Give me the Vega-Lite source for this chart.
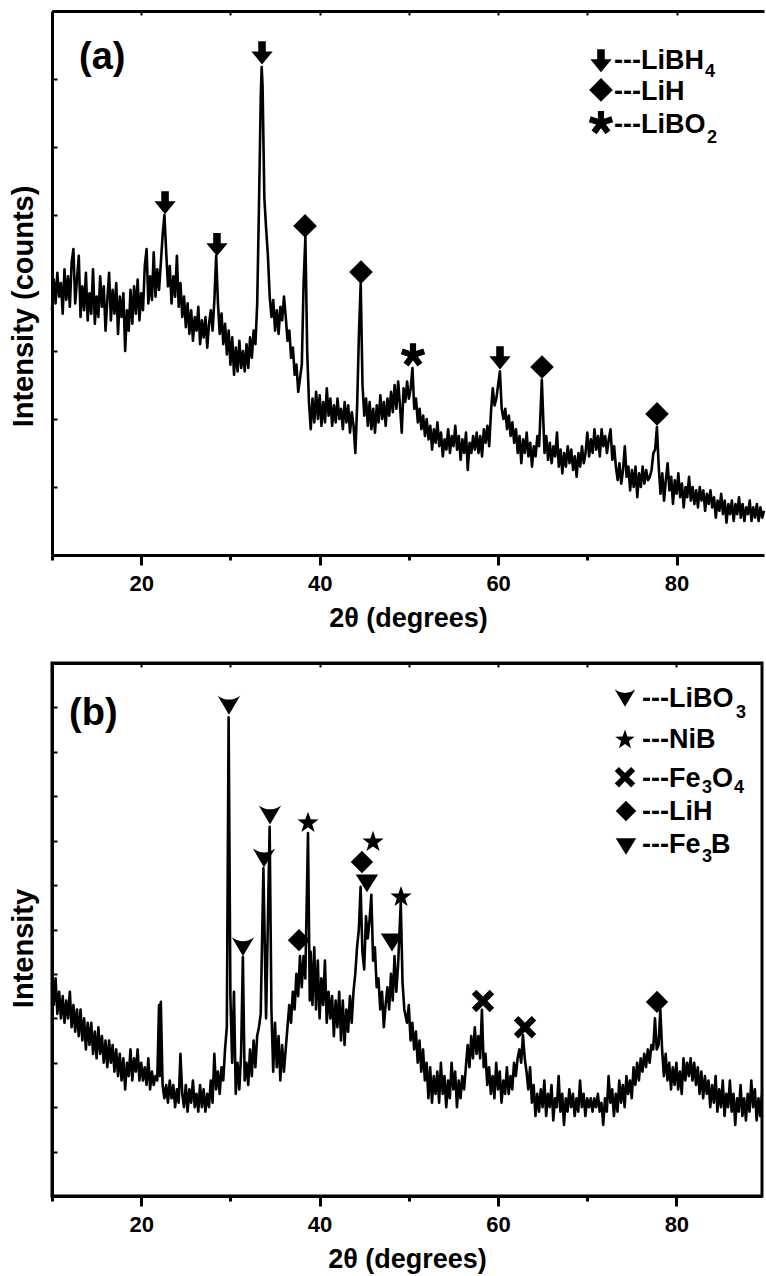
{
"$schema":"https://vega.github.io/schema/vega-lite/v6.json",
"padding":{"left":7,"top":10,"right":0,"bottom":0},
"config":{"view":{"stroke":null},"font":"Liberation Sans"},
"spacing":29,
"resolve":{"scale":{"shape":"independent"}},
"datasets":{
"a":[{"x":10.0,"y":7.2},{"x":10.2,"y":8.1},{"x":10.4,"y":7.4},{"x":10.6,"y":8.3},{"x":10.8,"y":7.6},{"x":11.0,"y":8.0},{"x":11.2,"y":7.1},{"x":11.4,"y":8.4},{"x":11.6,"y":7.5},{"x":11.8,"y":8.2},{"x":12.0,"y":7.3},{"x":12.2,"y":8.6},{"x":12.4,"y":9.0},{"x":12.6,"y":7.4},{"x":12.8,"y":8.1},{"x":13.0,"y":8.8},{"x":13.2,"y":7.0},{"x":13.4,"y":7.9},{"x":13.6,"y":7.2},{"x":13.8,"y":8.3},{"x":14.0,"y":6.9},{"x":14.2,"y":7.7},{"x":14.4,"y":7.1},{"x":14.6,"y":8.4},{"x":14.8,"y":6.8},{"x":15.0,"y":7.6},{"x":15.2,"y":7.0},{"x":15.4,"y":8.2},{"x":15.6,"y":7.3},{"x":15.8,"y":7.9},{"x":16.0,"y":6.6},{"x":16.2,"y":7.5},{"x":16.4,"y":8.3},{"x":16.6,"y":6.9},{"x":16.8,"y":7.8},{"x":17.0,"y":7.1},{"x":17.2,"y":8.0},{"x":17.4,"y":6.5},{"x":17.6,"y":7.6},{"x":17.8,"y":7.0},{"x":18.0,"y":7.7},{"x":18.2,"y":6.0},{"x":18.4,"y":7.2},{"x":18.6,"y":6.6},{"x":18.8,"y":7.8},{"x":19.0,"y":6.8},{"x":19.2,"y":7.9},{"x":19.4,"y":7.1},{"x":19.6,"y":8.1},{"x":19.8,"y":6.9},{"x":20.0,"y":7.7},{"x":20.2,"y":7.2},{"x":20.4,"y":8.5},{"x":20.6,"y":9.0},{"x":20.8,"y":7.4},{"x":21.0,"y":8.2},{"x":21.2,"y":7.5},{"x":21.4,"y":8.9},{"x":21.6,"y":7.6},{"x":21.8,"y":8.4},{"x":22.0,"y":7.8},{"x":22.2,"y":8.6},{"x":22.4,"y":9.4},{"x":22.6,"y":10.0},{"x":22.8,"y":8.9},{"x":23.0,"y":7.9},{"x":23.2,"y":8.5},{"x":23.4,"y":7.4},{"x":23.6,"y":8.2},{"x":23.8,"y":7.6},{"x":24.0,"y":8.8},{"x":24.2,"y":7.3},{"x":24.4,"y":8.0},{"x":24.6,"y":7.0},{"x":24.8,"y":7.6},{"x":25.0,"y":6.7},{"x":25.2,"y":7.4},{"x":25.4,"y":6.5},{"x":25.6,"y":7.2},{"x":25.8,"y":6.3},{"x":26.0,"y":7.0},{"x":26.2,"y":6.6},{"x":26.4,"y":7.3},{"x":26.6,"y":6.2},{"x":26.8,"y":6.9},{"x":27.0,"y":6.4},{"x":27.2,"y":7.0},{"x":27.4,"y":6.1},{"x":27.6,"y":6.8},{"x":27.8,"y":7.2},{"x":28.0,"y":6.6},{"x":28.2,"y":7.5},{"x":28.4,"y":8.8},{"x":28.6,"y":7.4},{"x":28.8,"y":6.5},{"x":29.0,"y":7.1},{"x":29.2,"y":6.2},{"x":29.4,"y":6.8},{"x":29.6,"y":5.9},{"x":29.8,"y":6.6},{"x":30.0,"y":5.6},{"x":30.2,"y":6.4},{"x":30.4,"y":5.3},{"x":30.6,"y":6.1},{"x":30.8,"y":5.4},{"x":31.0,"y":6.3},{"x":31.2,"y":5.5},{"x":31.4,"y":6.0},{"x":31.6,"y":5.4},{"x":31.8,"y":6.2},{"x":32.0,"y":5.5},{"x":32.2,"y":6.4},{"x":32.4,"y":5.8},{"x":32.6,"y":6.6},{"x":32.8,"y":6.2},{"x":33.0,"y":7.4},{"x":33.2,"y":10.3},{"x":33.4,"y":13.5},{"x":33.5,"y":14.35},{"x":33.6,"y":13.8},{"x":33.8,"y":10.5},{"x":34.0,"y":9.6},{"x":34.2,"y":8.8},{"x":34.4,"y":7.6},{"x":34.6,"y":7.0},{"x":34.8,"y":7.5},{"x":35.0,"y":6.6},{"x":35.2,"y":7.2},{"x":35.4,"y":6.5},{"x":35.6,"y":7.3},{"x":35.8,"y":6.9},{"x":36.0,"y":7.6},{"x":36.2,"y":7.0},{"x":36.4,"y":6.3},{"x":36.6,"y":6.6},{"x":36.8,"y":5.8},{"x":37.0,"y":6.1},{"x":37.2,"y":5.3},{"x":37.4,"y":5.6},{"x":37.6,"y":4.8},{"x":37.8,"y":5.2},{"x":38.0,"y":5.6},{"x":38.2,"y":8.0},{"x":38.4,"y":9.35},{"x":38.6,"y":6.0},{"x":38.8,"y":4.5},{"x":39.0,"y":3.7},{"x":39.2,"y":4.6},{"x":39.4,"y":3.9},{"x":39.6,"y":4.8},{"x":39.8,"y":4.0},{"x":40.0,"y":4.7},{"x":40.2,"y":3.8},{"x":40.4,"y":4.5},{"x":40.6,"y":3.9},{"x":40.8,"y":4.9},{"x":41.0,"y":4.1},{"x":41.2,"y":4.6},{"x":41.4,"y":3.8},{"x":41.6,"y":4.4},{"x":41.8,"y":3.9},{"x":42.0,"y":4.6},{"x":42.2,"y":4.0},{"x":42.4,"y":4.3},{"x":42.6,"y":3.7},{"x":42.8,"y":4.5},{"x":43.0,"y":3.9},{"x":43.2,"y":4.4},{"x":43.4,"y":3.6},{"x":43.6,"y":4.2},{"x":43.8,"y":3.8},{"x":44.0,"y":3.0},{"x":44.2,"y":4.4},{"x":44.4,"y":6.5},{"x":44.6,"y":8.0},{"x":44.8,"y":5.0},{"x":45.0,"y":4.1},{"x":45.2,"y":4.6},{"x":45.4,"y":3.8},{"x":45.6,"y":4.5},{"x":45.8,"y":3.7},{"x":46.0,"y":4.3},{"x":46.2,"y":3.6},{"x":46.4,"y":4.4},{"x":46.6,"y":3.9},{"x":46.8,"y":4.7},{"x":47.0,"y":4.0},{"x":47.2,"y":4.5},{"x":47.4,"y":3.8},{"x":47.6,"y":4.6},{"x":47.8,"y":4.1},{"x":48.0,"y":4.8},{"x":48.2,"y":4.2},{"x":48.4,"y":5.0},{"x":48.6,"y":4.3},{"x":48.8,"y":5.1},{"x":49.0,"y":4.4},{"x":49.2,"y":3.6},{"x":49.4,"y":4.9},{"x":49.6,"y":4.5},{"x":49.8,"y":5.1},{"x":50.0,"y":4.6},{"x":50.2,"y":4.9},{"x":50.4,"y":5.5},{"x":50.6,"y":4.3},{"x":50.8,"y":4.6},{"x":51.0,"y":3.9},{"x":51.2,"y":4.3},{"x":51.4,"y":3.7},{"x":51.6,"y":4.1},{"x":51.8,"y":3.5},{"x":52.0,"y":4.0},{"x":52.2,"y":3.4},{"x":52.4,"y":3.8},{"x":52.6,"y":3.1},{"x":52.8,"y":3.7},{"x":53.0,"y":3.3},{"x":53.2,"y":3.9},{"x":53.4,"y":3.2},{"x":53.6,"y":3.6},{"x":53.8,"y":2.9},{"x":54.0,"y":3.4},{"x":54.2,"y":3.1},{"x":54.4,"y":3.7},{"x":54.6,"y":3.0},{"x":54.8,"y":3.5},{"x":55.0,"y":3.2},{"x":55.2,"y":3.8},{"x":55.4,"y":3.1},{"x":55.6,"y":3.5},{"x":55.8,"y":2.8},{"x":56.0,"y":3.4},{"x":56.2,"y":3.0},{"x":56.4,"y":3.6},{"x":56.6,"y":2.5},{"x":56.8,"y":3.3},{"x":57.0,"y":3.0},{"x":57.2,"y":3.5},{"x":57.4,"y":3.1},{"x":57.6,"y":3.6},{"x":57.8,"y":3.0},{"x":58.0,"y":3.5},{"x":58.2,"y":2.9},{"x":58.4,"y":3.7},{"x":58.6,"y":3.3},{"x":58.8,"y":3.8},{"x":59.0,"y":3.2},{"x":59.2,"y":4.2},{"x":59.4,"y":4.9},{"x":59.6,"y":4.4},{"x":59.8,"y":4.6},{"x":60.0,"y":5.0},{"x":60.2,"y":5.4},{"x":60.4,"y":4.3},{"x":60.6,"y":4.0},{"x":60.8,"y":4.3},{"x":61.0,"y":3.7},{"x":61.2,"y":4.1},{"x":61.4,"y":3.5},{"x":61.6,"y":3.9},{"x":61.8,"y":3.3},{"x":62.0,"y":3.7},{"x":62.2,"y":3.0},{"x":62.4,"y":3.5},{"x":62.6,"y":2.7},{"x":62.8,"y":3.4},{"x":63.0,"y":3.0},{"x":63.2,"y":3.6},{"x":63.4,"y":2.9},{"x":63.6,"y":3.3},{"x":63.8,"y":2.6},{"x":64.0,"y":3.2},{"x":64.2,"y":2.9},{"x":64.4,"y":3.5},{"x":64.6,"y":3.2},{"x":64.9,"y":5.15},{"x":65.2,"y":3.0},{"x":65.4,"y":3.5},{"x":65.6,"y":2.8},{"x":65.8,"y":3.3},{"x":66.0,"y":2.7},{"x":66.2,"y":3.2},{"x":66.4,"y":2.9},{"x":66.6,"y":3.6},{"x":66.8,"y":2.6},{"x":67.0,"y":3.1},{"x":67.2,"y":2.4},{"x":67.4,"y":3.0},{"x":67.6,"y":2.6},{"x":67.8,"y":3.2},{"x":68.0,"y":2.7},{"x":68.2,"y":3.1},{"x":68.4,"y":2.5},{"x":68.6,"y":2.9},{"x":68.8,"y":2.3},{"x":69.0,"y":3.0},{"x":69.2,"y":2.6},{"x":69.4,"y":3.2},{"x":69.6,"y":2.7},{"x":69.8,"y":3.0},{"x":70.0,"y":3.6},{"x":70.2,"y":2.9},{"x":70.4,"y":3.4},{"x":70.6,"y":3.0},{"x":70.8,"y":3.7},{"x":71.0,"y":3.1},{"x":71.2,"y":3.5},{"x":71.4,"y":2.9},{"x":71.6,"y":3.7},{"x":71.8,"y":3.2},{"x":72.0,"y":3.5},{"x":72.2,"y":3.0},{"x":72.4,"y":3.4},{"x":72.6,"y":3.7},{"x":72.8,"y":2.8},{"x":73.0,"y":3.2},{"x":73.2,"y":2.6},{"x":73.4,"y":2.2},{"x":73.6,"y":2.7},{"x":73.8,"y":2.1},{"x":74.0,"y":2.5},{"x":74.2,"y":3.2},{"x":74.4,"y":2.3},{"x":74.6,"y":2.6},{"x":74.8,"y":1.9},{"x":75.0,"y":2.5},{"x":75.2,"y":2.0},{"x":75.4,"y":2.6},{"x":75.6,"y":1.7},{"x":75.8,"y":2.4},{"x":76.0,"y":2.0},{"x":76.2,"y":2.6},{"x":76.4,"y":2.1},{"x":76.6,"y":2.5},{"x":76.8,"y":2.2},{"x":77.0,"y":2.3},{"x":77.2,"y":2.5},{"x":77.4,"y":3.0},{"x":77.6,"y":3.1},{"x":77.8,"y":3.76},{"x":78.0,"y":2.6},{"x":78.2,"y":1.8},{"x":78.4,"y":2.4},{"x":78.6,"y":1.6},{"x":78.8,"y":2.2},{"x":79.0,"y":2.7},{"x":79.2,"y":1.9},{"x":79.4,"y":2.3},{"x":79.6,"y":1.5},{"x":79.8,"y":2.2},{"x":80.0,"y":1.8},{"x":80.2,"y":2.4},{"x":80.4,"y":1.7},{"x":80.6,"y":2.1},{"x":80.8,"y":1.4},{"x":81.0,"y":2.0},{"x":81.2,"y":1.7},{"x":81.4,"y":2.3},{"x":81.6,"y":1.6},{"x":81.8,"y":2.0},{"x":82.0,"y":1.5},{"x":82.2,"y":1.9},{"x":82.4,"y":1.4},{"x":82.6,"y":2.0},{"x":82.8,"y":1.6},{"x":83.0,"y":1.9},{"x":83.2,"y":1.3},{"x":83.4,"y":1.8},{"x":83.6,"y":1.5},{"x":83.8,"y":1.9},{"x":84.0,"y":1.4},{"x":84.2,"y":1.7},{"x":84.4,"y":1.1},{"x":84.6,"y":1.6},{"x":84.8,"y":1.3},{"x":85.0,"y":1.8},{"x":85.2,"y":1.2},{"x":85.4,"y":1.6},{"x":85.6,"y":0.95},{"x":85.8,"y":1.5},{"x":86.0,"y":1.2},{"x":86.2,"y":1.6},{"x":86.4,"y":1.0},{"x":86.6,"y":1.5},{"x":86.8,"y":1.2},{"x":87.0,"y":1.7},{"x":87.2,"y":1.1},{"x":87.4,"y":1.5},{"x":87.6,"y":1.0},{"x":87.8,"y":1.4},{"x":88.0,"y":1.2},{"x":88.2,"y":1.6},{"x":88.4,"y":1.0},{"x":88.6,"y":1.4},{"x":88.8,"y":1.1},{"x":89.0,"y":1.5},{"x":89.2,"y":1.0},{"x":89.4,"y":1.4},{"x":89.6,"y":1.1},{"x":89.8,"y":1.3}],
"am":[{"x":22.67,"y":10.35,"s":"arrow"},{"x":28.49,"y":9.12,"s":"arrow"},{"x":33.54,"y":14.76,"s":"arrow"},{"x":60.21,"y":5.79,"s":"arrow"},{"x":38.36,"y":9.68,"s":"diamond"},{"x":44.63,"y":8.32,"s":"diamond"},{"x":64.92,"y":5.53,"s":"diamond"},{"x":77.81,"y":4.15,"s":"diamond"},{"x":50.46,"y":5.88,"s":"asterisk"},{"x":71.53,"y":14.53,"s":"arrow"},{"x":71.53,"y":13.68,"s":"diamond"},{"x":71.53,"y":12.71,"s":"asterisk"}],
"at":[{"x":72.99,"y":14.29,"t":"---LiBH"},{"x":72.99,"y":13.38,"t":"---LiH"},{"x":72.99,"y":12.41,"t":"---LiBO"}],
"as":[{"x":83.19,"y":14.06,"t":"4"},{"x":83.4,"y":12.12,"t":"2"}],
"al":[{"x":13.03,"y":14.29,"t":"(a)"}],
"b":[{"x":10.0,"y":4.8},{"x":10.2,"y":4.3},{"x":10.4,"y":4.9},{"x":10.6,"y":4.1},{"x":10.8,"y":4.6},{"x":11.0,"y":4.0},{"x":11.2,"y":4.5},{"x":11.4,"y":3.9},{"x":11.6,"y":4.4},{"x":11.8,"y":4.0},{"x":12.0,"y":4.6},{"x":12.2,"y":3.8},{"x":12.4,"y":4.3},{"x":12.6,"y":3.7},{"x":12.8,"y":4.2},{"x":13.0,"y":3.6},{"x":13.2,"y":4.2},{"x":13.4,"y":3.5},{"x":13.6,"y":4.0},{"x":13.8,"y":3.3},{"x":14.0,"y":3.9},{"x":14.2,"y":3.4},{"x":14.4,"y":3.9},{"x":14.6,"y":3.2},{"x":14.8,"y":3.7},{"x":15.0,"y":3.1},{"x":15.2,"y":3.8},{"x":15.4,"y":3.2},{"x":15.6,"y":3.6},{"x":15.8,"y":3.0},{"x":16.0,"y":3.5},{"x":16.2,"y":2.9},{"x":16.4,"y":3.5},{"x":16.6,"y":3.0},{"x":16.8,"y":3.4},{"x":17.0,"y":2.8},{"x":17.2,"y":3.3},{"x":17.4,"y":2.7},{"x":17.6,"y":3.2},{"x":17.8,"y":2.6},{"x":18.0,"y":3.1},{"x":18.2,"y":2.4},{"x":18.4,"y":3.0},{"x":18.6,"y":2.7},{"x":18.8,"y":3.3},{"x":19.0,"y":2.6},{"x":19.2,"y":3.1},{"x":19.4,"y":2.8},{"x":19.6,"y":3.3},{"x":19.8,"y":2.6},{"x":20.0,"y":3.0},{"x":20.2,"y":2.6},{"x":20.4,"y":2.9},{"x":20.6,"y":2.5},{"x":20.8,"y":3.1},{"x":21.0,"y":2.4},{"x":21.2,"y":2.8},{"x":21.4,"y":2.5},{"x":21.6,"y":2.7},{"x":21.8,"y":2.6},{"x":22.0,"y":4.3},{"x":22.1,"y":2.7},{"x":22.2,"y":4.37},{"x":22.4,"y":2.5},{"x":22.6,"y":2.2},{"x":22.8,"y":2.5},{"x":23.0,"y":2.1},{"x":23.2,"y":2.6},{"x":23.4,"y":2.2},{"x":23.6,"y":2.5},{"x":23.8,"y":2.0},{"x":24.0,"y":2.4},{"x":24.2,"y":2.1},{"x":24.4,"y":3.2},{"x":24.6,"y":2.3},{"x":24.8,"y":2.0},{"x":25.0,"y":2.5},{"x":25.2,"y":1.9},{"x":25.4,"y":2.4},{"x":25.6,"y":2.1},{"x":25.8,"y":2.6},{"x":26.0,"y":2.0},{"x":26.2,"y":2.3},{"x":26.4,"y":1.9},{"x":26.6,"y":2.5},{"x":26.8,"y":2.0},{"x":27.0,"y":2.4},{"x":27.2,"y":1.9},{"x":27.4,"y":2.3},{"x":27.6,"y":2.0},{"x":27.8,"y":2.6},{"x":28.0,"y":2.1},{"x":28.2,"y":3.2},{"x":28.4,"y":2.4},{"x":28.6,"y":2.8},{"x":28.8,"y":2.3},{"x":29.0,"y":2.9},{"x":29.2,"y":2.6},{"x":29.4,"y":3.3},{"x":29.6,"y":3.8},{"x":29.8,"y":10.78},{"x":30.0,"y":4.5},{"x":30.2,"y":3.0},{"x":30.4,"y":4.6},{"x":30.6,"y":2.3},{"x":30.8,"y":3.0},{"x":31.0,"y":2.4},{"x":31.2,"y":3.2},{"x":31.4,"y":5.38},{"x":31.6,"y":2.6},{"x":31.8,"y":3.0},{"x":32.0,"y":2.5},{"x":32.2,"y":3.3},{"x":32.4,"y":2.7},{"x":32.6,"y":3.5},{"x":32.8,"y":2.9},{"x":33.0,"y":3.6},{"x":33.2,"y":3.8},{"x":33.4,"y":4.1},{"x":33.7,"y":7.38},{"x":34.0,"y":4.0},{"x":34.4,"y":8.31},{"x":34.6,"y":4.2},{"x":34.8,"y":2.8},{"x":35.0,"y":3.9},{"x":35.2,"y":2.9},{"x":35.4,"y":3.6},{"x":35.6,"y":2.6},{"x":35.8,"y":3.4},{"x":36.0,"y":2.8},{"x":36.2,"y":3.3},{"x":36.4,"y":3.8},{"x":36.6,"y":4.3},{"x":36.8,"y":3.9},{"x":37.0,"y":4.6},{"x":37.2,"y":4.2},{"x":37.4,"y":5.0},{"x":37.6,"y":4.5},{"x":37.8,"y":5.4},{"x":38.0,"y":4.7},{"x":38.2,"y":5.4},{"x":38.4,"y":4.9},{"x":38.7,"y":8.17},{"x":38.9,"y":4.4},{"x":39.0,"y":5.5},{"x":39.2,"y":4.3},{"x":39.4,"y":5.6},{"x":39.6,"y":4.2},{"x":39.8,"y":5.3},{"x":40.0,"y":4.0},{"x":40.2,"y":4.9},{"x":40.4,"y":4.3},{"x":40.6,"y":5.3},{"x":40.8,"y":3.9},{"x":41.0,"y":4.6},{"x":41.2,"y":4.0},{"x":41.4,"y":4.5},{"x":41.6,"y":3.6},{"x":41.8,"y":4.4},{"x":42.0,"y":3.8},{"x":42.2,"y":4.6},{"x":42.4,"y":3.5},{"x":42.6,"y":4.4},{"x":42.8,"y":3.4},{"x":43.0,"y":4.2},{"x":43.2,"y":3.7},{"x":43.4,"y":4.5},{"x":43.6,"y":3.9},{"x":43.8,"y":4.6},{"x":44.0,"y":5.0},{"x":44.2,"y":5.6},{"x":44.4,"y":6.0},{"x":44.6,"y":6.96},{"x":44.8,"y":5.5},{"x":45.0,"y":5.1},{"x":45.2,"y":6.3},{"x":45.4,"y":5.8},{"x":45.6,"y":6.2},{"x":45.8,"y":6.78},{"x":46.0,"y":5.3},{"x":46.2,"y":5.6},{"x":46.4,"y":4.7},{"x":46.6,"y":4.9},{"x":46.8,"y":4.2},{"x":47.0,"y":4.6},{"x":47.2,"y":3.8},{"x":47.4,"y":4.3},{"x":47.6,"y":4.7},{"x":47.8,"y":4.2},{"x":48.0,"y":5.0},{"x":48.2,"y":4.4},{"x":48.4,"y":5.4},{"x":48.6,"y":4.6},{"x":48.8,"y":5.2},{"x":49.1,"y":6.6},{"x":49.3,"y":4.8},{"x":49.5,"y":4.2},{"x":49.8,"y":3.9},{"x":50.0,"y":4.3},{"x":50.2,"y":3.5},{"x":50.4,"y":3.9},{"x":50.6,"y":3.3},{"x":50.8,"y":3.7},{"x":51.0,"y":3.0},{"x":51.2,"y":3.5},{"x":51.4,"y":2.8},{"x":51.6,"y":3.3},{"x":51.8,"y":2.6},{"x":52.0,"y":3.0},{"x":52.2,"y":2.2},{"x":52.4,"y":2.9},{"x":52.6,"y":2.1},{"x":52.8,"y":2.7},{"x":53.0,"y":2.3},{"x":53.2,"y":2.8},{"x":53.4,"y":2.1},{"x":53.6,"y":3.0},{"x":53.8,"y":2.3},{"x":54.0,"y":2.7},{"x":54.2,"y":2.0},{"x":54.4,"y":2.6},{"x":54.6,"y":2.2},{"x":54.8,"y":3.0},{"x":55.0,"y":2.4},{"x":55.2,"y":2.8},{"x":55.4,"y":2.0},{"x":55.6,"y":2.6},{"x":55.8,"y":2.2},{"x":56.0,"y":2.7},{"x":56.2,"y":2.4},{"x":56.4,"y":2.9},{"x":56.6,"y":3.4},{"x":56.8,"y":2.9},{"x":57.0,"y":3.6},{"x":57.2,"y":3.1},{"x":57.4,"y":3.8},{"x":57.6,"y":3.2},{"x":57.8,"y":3.6},{"x":58.0,"y":3.1},{"x":58.2,"y":4.19},{"x":58.4,"y":2.9},{"x":58.6,"y":3.2},{"x":58.8,"y":2.5},{"x":59.0,"y":2.9},{"x":59.2,"y":2.3},{"x":59.4,"y":2.7},{"x":59.6,"y":2.2},{"x":59.8,"y":3.0},{"x":60.0,"y":2.4},{"x":60.2,"y":2.8},{"x":60.4,"y":2.1},{"x":60.6,"y":2.6},{"x":60.8,"y":2.3},{"x":61.0,"y":2.9},{"x":61.2,"y":2.3},{"x":61.4,"y":2.7},{"x":61.6,"y":2.4},{"x":61.8,"y":3.0},{"x":62.0,"y":2.7},{"x":62.2,"y":3.1},{"x":62.4,"y":3.3},{"x":62.6,"y":3.0},{"x":62.8,"y":3.62},{"x":63.0,"y":3.1},{"x":63.2,"y":2.8},{"x":63.4,"y":2.4},{"x":63.6,"y":2.9},{"x":63.8,"y":2.1},{"x":64.0,"y":2.5},{"x":64.2,"y":1.8},{"x":64.4,"y":2.3},{"x":64.6,"y":1.9},{"x":64.8,"y":2.4},{"x":65.0,"y":2.0},{"x":65.2,"y":2.6},{"x":65.4,"y":1.8},{"x":65.6,"y":2.3},{"x":65.8,"y":2.0},{"x":66.0,"y":2.5},{"x":66.2,"y":1.7},{"x":66.4,"y":2.2},{"x":66.6,"y":2.0},{"x":66.8,"y":2.7},{"x":67.0,"y":1.9},{"x":67.2,"y":2.3},{"x":67.4,"y":1.6},{"x":67.6,"y":2.2},{"x":67.8,"y":1.9},{"x":68.0,"y":2.4},{"x":68.2,"y":2.0},{"x":68.4,"y":2.3},{"x":68.6,"y":1.8},{"x":68.8,"y":2.2},{"x":69.0,"y":1.9},{"x":69.2,"y":2.6},{"x":69.4,"y":2.0},{"x":69.6,"y":2.3},{"x":69.8,"y":1.8},{"x":70.0,"y":2.2},{"x":70.2,"y":2.0},{"x":70.4,"y":2.2},{"x":70.6,"y":1.9},{"x":70.8,"y":2.2},{"x":71.0,"y":2.0},{"x":71.2,"y":2.3},{"x":71.4,"y":1.9},{"x":71.6,"y":2.1},{"x":71.8,"y":1.6},{"x":72.0,"y":2.2},{"x":72.2,"y":1.9},{"x":72.4,"y":2.7},{"x":72.6,"y":2.1},{"x":72.8,"y":2.4},{"x":73.0,"y":1.8},{"x":73.2,"y":2.3},{"x":73.4,"y":1.9},{"x":73.6,"y":2.6},{"x":73.8,"y":2.1},{"x":74.0,"y":2.5},{"x":74.2,"y":2.0},{"x":74.4,"y":2.7},{"x":74.6,"y":2.3},{"x":74.8,"y":2.6},{"x":75.0,"y":2.2},{"x":75.2,"y":2.9},{"x":75.4,"y":2.5},{"x":75.6,"y":3.0},{"x":75.8,"y":2.6},{"x":76.0,"y":3.1},{"x":76.2,"y":2.8},{"x":76.4,"y":3.2},{"x":76.6,"y":2.9},{"x":76.8,"y":3.3},{"x":77.0,"y":3.0},{"x":77.2,"y":3.4},{"x":77.4,"y":3.3},{"x":77.6,"y":4.0},{"x":77.8,"y":3.3},{"x":78.0,"y":3.4},{"x":78.2,"y":4.19},{"x":78.4,"y":3.3},{"x":78.6,"y":2.7},{"x":78.8,"y":3.2},{"x":79.0,"y":2.6},{"x":79.2,"y":3.0},{"x":79.4,"y":2.4},{"x":79.6,"y":2.9},{"x":79.8,"y":2.5},{"x":80.0,"y":3.0},{"x":80.2,"y":2.4},{"x":80.4,"y":2.8},{"x":80.6,"y":2.3},{"x":80.8,"y":3.1},{"x":81.0,"y":2.6},{"x":81.2,"y":3.0},{"x":81.4,"y":2.7},{"x":81.6,"y":3.1},{"x":81.8,"y":2.6},{"x":82.0,"y":3.0},{"x":82.2,"y":2.5},{"x":82.4,"y":2.9},{"x":82.6,"y":2.3},{"x":82.8,"y":2.8},{"x":83.0,"y":2.2},{"x":83.2,"y":2.7},{"x":83.4,"y":2.3},{"x":83.6,"y":2.6},{"x":83.8,"y":2.0},{"x":84.0,"y":2.5},{"x":84.2,"y":2.1},{"x":84.4,"y":2.7},{"x":84.6,"y":1.9},{"x":84.8,"y":2.4},{"x":85.0,"y":2.0},{"x":85.2,"y":2.6},{"x":85.4,"y":1.8},{"x":85.6,"y":2.3},{"x":85.8,"y":2.0},{"x":86.0,"y":2.6},{"x":86.2,"y":1.9},{"x":86.4,"y":2.3},{"x":86.6,"y":1.6},{"x":86.8,"y":2.2},{"x":87.0,"y":1.9},{"x":87.2,"y":2.5},{"x":87.4,"y":1.8},{"x":87.6,"y":2.2},{"x":87.8,"y":1.7},{"x":88.0,"y":2.3},{"x":88.2,"y":1.9},{"x":88.4,"y":2.6},{"x":88.6,"y":2.0},{"x":88.8,"y":2.4},{"x":89.0,"y":1.7},{"x":89.2,"y":2.2},{"x":89.4,"y":1.8},{"x":89.6,"y":2.3}],
"bm":[{"x":29.84,"y":11.05,"s":"chev"},{"x":31.41,"y":5.61,"s":"chev"},{"x":33.77,"y":7.61,"s":"chev"},{"x":34.44,"y":8.58,"s":"chev"},{"x":38.7,"y":8.4,"s":"star"},{"x":45.99,"y":7.97,"s":"star"},{"x":49.13,"y":6.73,"s":"star"},{"x":37.69,"y":5.76,"s":"diamond"},{"x":44.75,"y":7.52,"s":"diamond"},{"x":77.83,"y":4.37,"s":"diamond"},{"x":45.31,"y":7.05,"s":"tri"},{"x":48.12,"y":5.72,"s":"tri"},{"x":58.32,"y":4.39,"s":"xc"},{"x":63.03,"y":3.8,"s":"xc"}],
"bg":[{"x":74.24,"y":11.21,"s":"chev"},{"x":74.24,"y":10.27,"s":"star"},{"x":74.24,"y":9.43,"s":"xc"},{"x":74.35,"y":8.67,"s":"diamond"},{"x":74.35,"y":7.88,"s":"tri"}],
"bt":[{"x":76.14,"y":11.01,"t":"---LiBO"},{"x":76.14,"y":10.09,"t":"---NiB"},{"x":76.14,"y":9.21,"t":"---Fe"},{"x":84.0,"y":9.21,"t":"O"},{"x":76.14,"y":8.46,"t":"---LiH"},{"x":76.14,"y":7.72,"t":"---Fe"},{"x":83.88,"y":7.72,"t":"B"}],
"bs":[{"x":86.68,"y":10.76,"t":"3"},{"x":82.87,"y":9.07,"t":"3"},{"x":86.45,"y":9.07,"t":"4"},{"x":82.87,"y":7.52,"t":"3"}],
"bl":[{"x":11.91,"y":10.6,"t":"(b)"}]
},
"vconcat":[
{
"width":712,"height":544,
"resolve":{"axis":{"x":"independent"}},
"layer":[
{"data":{"name":"a"},"mark":{"type":"line","color":"black","strokeWidth":2.6,"strokeJoin":"round"},
"encoding":{
"x":{"field":"x","type":"quantitative","scale":{"domain":[10,89.8],"nice":false,"zero":false},
"axis":{"orient":"bottom","values":[10,20,30,40,50,60,70,80],"labelExpr":"datum.value % 20 === 0 ? datum.label : ''","tickSize":{"condition":{"test":"datum.value % 20 === 0","value":10},"value":5},"tickWidth":3,"tickColor":"black","domainWidth":3,"domainColor":"black","grid":false,"labelFont":"Liberation Sans","labelFontWeight":"bold","labelFontSize":22,"labelColor":"black","labelPadding":8,"labelFlush":false,"title":"2θ (degrees)","titleFont":"Liberation Sans","titleFontWeight":"bold","titleFontSize":27,"titleColor":"black","titlePadding":11}},
"y":{"field":"y","type":"quantitative","scale":{"domain":[0,16],"nice":false,"zero":false},
"axis":{"orient":"left","values":[0,1,2,3,4,5,6,7,8,9,10,11,12,13,14,15,16],"labels":false,"tickSize":-5,"tickWidth":2,"tickColor":"black","domainWidth":3,"domainColor":"black","grid":false,"title":"Intensity (counts)","titleFont":"Liberation Sans","titleFontWeight":"bold","titleFontSize":29,"titleColor":"black","titleX":-29,"titleY":295,"titleBaseline":"middle"}}}},
{"data":{"name":"am"},"mark":{"type":"point","filled":true,"color":"black","size":560,"opacity":1},
"encoding":{
"x":{"field":"x","type":"quantitative","scale":{"domain":[10,89.8],"nice":false,"zero":false},
"axis":{"orient":"top","values":[20,30,40,50,60,70,80],"labels":false,"tickSize":-4,"tickWidth":2,"tickColor":"black","domainWidth":3,"domainColor":"black","grid":false,"title":null}},
"y":{"field":"y","type":"quantitative","scale":{"domain":[0,16],"nice":false,"zero":false}},
"shape":{"field":"s","type":"nominal","legend":null,"scale":{"domain":["arrow","diamond","asterisk"],"range":["M-0.32,-1L0.32,-1L0.32,-0.15L0.9,-0.15L0,0.95L-0.9,-0.15L-0.32,-0.15Z","M0,-1L1,0L0,1L-1,0Z","M0.26,0L0.26,-1L-0.26,-1L-0.26,0ZM0.08,0.247L1.031,-0.062L0.871,-0.556L-0.08,-0.247ZM-0.21,0.153L0.378,0.962L0.798,0.656L0.21,-0.153ZM-0.21,-0.153L-0.798,0.656L-0.378,0.962L0.21,0.153ZM0.08,-0.247L-0.871,-0.556L-1.031,-0.062L-0.08,0.247Z"]}}}},
{"data":{"name":"at"},"mark":{"type":"text","align":"left","baseline":"alphabetic","font":"Liberation Sans","fontWeight":"bold","fontSize":27,"color":"black"},
"encoding":{"x":{"field":"x","type":"quantitative","scale":{"domain":[10,89.8],"nice":false,"zero":false},"axis":null},"y":{"field":"y","type":"quantitative","scale":{"domain":[0,16],"nice":false,"zero":false}},"text":{"field":"t"}}},
{"data":{"name":"as"},"mark":{"type":"text","align":"left","baseline":"alphabetic","font":"Liberation Sans","fontWeight":"bold","fontSize":18,"color":"black"},
"encoding":{"x":{"field":"x","type":"quantitative","scale":{"domain":[10,89.8],"nice":false,"zero":false},"axis":null},"y":{"field":"y","type":"quantitative","scale":{"domain":[0,16],"nice":false,"zero":false}},"text":{"field":"t"}}},
{"data":{"name":"al"},"mark":{"type":"text","align":"left","baseline":"alphabetic","font":"Liberation Sans","fontWeight":"bold","fontSize":38,"color":"black"},
"encoding":{"x":{"field":"x","type":"quantitative","scale":{"domain":[10,89.8],"nice":false,"zero":false},"axis":null},"y":{"field":"y","type":"quantitative","scale":{"domain":[0,16],"nice":false,"zero":false}},"text":{"field":"t"}}}
]
},
{
"width":710,"height":533,
"view":{"stroke":"black","strokeWidth":3},
"resolve":{"axis":{"x":"independent"}},
"layer":[
{"data":{"name":"b"},"mark":{"type":"line","color":"black","strokeWidth":2.6,"strokeJoin":"round"},
"encoding":{
"x":{"field":"x","type":"quantitative","scale":{"domain":[10,89.6],"nice":false,"zero":false},
"axis":{"orient":"bottom","values":[10,20,30,40,50,60,70,80],"labelExpr":"datum.value % 20 === 0 ? datum.label : ''","tickSize":{"condition":{"test":"datum.value % 20 === 0","value":10},"value":5},"tickWidth":3,"tickColor":"black","domainWidth":3,"domainColor":"black","grid":false,"labelFont":"Liberation Sans","labelFontWeight":"bold","labelFontSize":22,"labelColor":"black","labelPadding":8,"labelFlush":false,"title":"2θ (degrees)","titleFont":"Liberation Sans","titleFontWeight":"bold","titleFontSize":27,"titleColor":"black","titlePadding":11}},
"y":{"field":"y","type":"quantitative","scale":{"domain":[0,12],"nice":false,"zero":false},
"axis":{"orient":"left","values":[0,1,2,3,4,5,6,7,8,9,10,11,12],"labels":false,"tickSize":-5,"tickWidth":2,"tickColor":"black","domainWidth":3,"domainColor":"black","grid":false,"title":"Intensity","titleFont":"Liberation Sans","titleFontWeight":"bold","titleFontSize":29,"titleColor":"black","titleX":-29,"titleY":285,"titleBaseline":"middle"}}}},
{"data":{"name":"bm"},"mark":{"type":"point","filled":true,"color":"black","size":500,"opacity":1},
"encoding":{
"x":{"field":"x","type":"quantitative","scale":{"domain":[10,89.6],"nice":false,"zero":false},
"axis":{"orient":"top","values":[20,30,40,50,60,70,80],"labels":false,"tickSize":-4,"tickWidth":2,"tickColor":"black","domainWidth":3,"domainColor":"black","grid":false,"title":null}},
"y":{"field":"y","type":"quantitative","scale":{"domain":[0,12],"nice":false,"zero":false}},
"shape":{"field":"s","type":"nominal","legend":null,"scale":{"domain":["chev","star","xc","diamond","tri"],"range":["M-1,-0.85Q0,-0.15 1,-0.85L0,0.85Z","M0,-1L0.235,-0.324L0.951,-0.309L0.38,0.124L0.588,0.809L0,0.4L-0.588,0.809L-0.38,0.124L-0.951,-0.309L-0.235,-0.324Z","M-1,-0.6L-0.6,-1L0,-0.4L0.6,-1L1,-0.6L0.4,0L1,0.6L0.6,1L0,0.4L-0.6,1L-1,0.6L-0.4,0Z","M0,-1L1,0L0,1L-1,0Z","M-1,-0.75L1,-0.75L0,0.85Z"]}}}},
{"data":{"name":"bg"},"mark":{"type":"point","filled":true,"color":"black","size":420,"opacity":1},
"encoding":{
"x":{"field":"x","type":"quantitative","scale":{"domain":[10,89.6],"nice":false,"zero":false},"axis":null},
"y":{"field":"y","type":"quantitative","scale":{"domain":[0,12],"nice":false,"zero":false}},
"shape":{"field":"s","type":"nominal","legend":null,"scale":{"domain":["chev","star","xc","diamond","tri"],"range":["M-1,-0.85Q0,-0.15 1,-0.85L0,0.85Z","M0,-1L0.235,-0.324L0.951,-0.309L0.38,0.124L0.588,0.809L0,0.4L-0.588,0.809L-0.38,0.124L-0.951,-0.309L-0.235,-0.324Z","M-1,-0.6L-0.6,-1L0,-0.4L0.6,-1L1,-0.6L0.4,0L1,0.6L0.6,1L0,0.4L-0.6,1L-1,0.6L-0.4,0Z","M0,-1L1,0L0,1L-1,0Z","M-1,-0.75L1,-0.75L0,0.85Z"]}}}},
{"data":{"name":"bt"},"mark":{"type":"text","align":"left","baseline":"alphabetic","font":"Liberation Sans","fontWeight":"bold","fontSize":27,"color":"black"},
"encoding":{"x":{"field":"x","type":"quantitative","scale":{"domain":[10,89.6],"nice":false,"zero":false},"axis":null},"y":{"field":"y","type":"quantitative","scale":{"domain":[0,12],"nice":false,"zero":false}},"text":{"field":"t"}}},
{"data":{"name":"bs"},"mark":{"type":"text","align":"left","baseline":"alphabetic","font":"Liberation Sans","fontWeight":"bold","fontSize":18,"color":"black"},
"encoding":{"x":{"field":"x","type":"quantitative","scale":{"domain":[10,89.6],"nice":false,"zero":false},"axis":null},"y":{"field":"y","type":"quantitative","scale":{"domain":[0,12],"nice":false,"zero":false}},"text":{"field":"t"}}},
{"data":{"name":"bl"},"mark":{"type":"text","align":"left","baseline":"alphabetic","font":"Liberation Sans","fontWeight":"bold","fontSize":38,"color":"black"},
"encoding":{"x":{"field":"x","type":"quantitative","scale":{"domain":[10,89.6],"nice":false,"zero":false},"axis":null},"y":{"field":"y","type":"quantitative","scale":{"domain":[0,12],"nice":false,"zero":false}},"text":{"field":"t"}}}
]
}
]
}
